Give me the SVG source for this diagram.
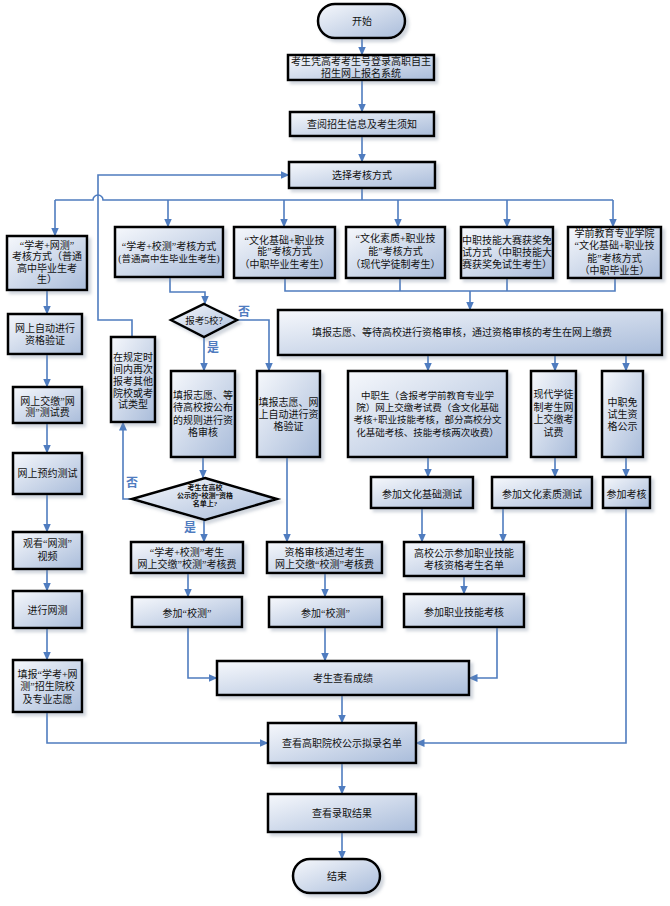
<svg xmlns="http://www.w3.org/2000/svg" width="670" height="906" viewBox="0 0 670 906">
<defs>
<linearGradient id="g" x1="0" y1="0" x2="1" y2="1">
<stop offset="0" stop-color="#f6f8fc"/>
<stop offset="1" stop-color="#a9bcda"/>
</linearGradient>
<filter id="sh" x="-10%" y="-10%" width="130%" height="140%">
<feDropShadow dx="3" dy="3" stdDeviation="1.8" flood-color="#7d8aa0" flood-opacity="0.35"/>
</filter>
<marker id="a" markerUnits="userSpaceOnUse" markerWidth="9" markerHeight="8" refX="8.5" refY="4" orient="auto">
<path d="M0,0 L9,4 L0,8 z" fill="#4f7cbf"/>
</marker>
<style>
.n{fill:url(#g);stroke:#000;stroke-width:2.5;filter:url(#sh)}
text{font-family:"Liberation Serif","Noto Sans CJK SC",serif;font-size:10px;fill:#111;text-anchor:middle}
.s{font-size:9.5px}
.d{font-size:7px;font-weight:bold}
.lb{font-family:"Noto Sans CJK SC",sans-serif;font-size:12px;font-weight:bold;fill:#4f7cbf}
.c path{fill:none;stroke:#4f7cbf;stroke-width:1.6}
.c .ar{marker-end:url(#a)}
</style>
</defs>
<rect width="670" height="906" fill="#fff"/>

<g class="c" id="connectors">
<path class="ar" d="M362,38 V55"/>
<path class="ar" d="M362,80 V112"/>
<path class="ar" d="M362,136 V162"/>
<path d="M362,188 V200"/>
<path d="M55,200 H93 A5,5 0 0 1 103,200 H613"/>
<path class="ar" d="M55,200 V236"/>
<path class="ar" d="M168,200 V227"/>
<path class="ar" d="M284,200 V227"/>
<path class="ar" d="M398,200 V227"/>
<path class="ar" d="M507,200 V227"/>
<path class="ar" d="M613,200 V227"/>
<path class="ar" d="M132,337 V320 H98 V175 H289"/>
<path class="ar" d="M47,290 V314"/>
<path class="ar" d="M47,354 V387"/>
<path class="ar" d="M47,423 V453"/>
<path class="ar" d="M47,494 V532"/>
<path class="ar" d="M47,569 V591"/>
<path class="ar" d="M47,628 V660"/>
<path class="ar" d="M47,712 V743 H268"/>
<path class="ar" d="M170,277 V292 H205 V304"/>
<path d="M285,278 V291 H615 V278"/>
<path d="M400,278 V291"/>
<path d="M507,278 V291"/>
<path class="ar" d="M470,291 V310"/>
<path class="ar" d="M237,320 H269 V371"/>
<path class="ar" d="M204,337 V371"/>
<path class="ar" d="M203,457 V478"/>
<path class="ar" d="M132,499 H123 V422"/>
<path class="ar" d="M204,520 V542"/>
<path class="ar" d="M188,573 V597"/>
<path class="ar" d="M188,627 V678 H217"/>
<path class="ar" d="M287,457 V542"/>
<path class="ar" d="M325,573 V597"/>
<path class="ar" d="M325,627 V661"/>
<path class="ar" d="M428,355 V371"/>
<path class="ar" d="M555,355 V371"/>
<path class="ar" d="M626,355 V371"/>
<path class="ar" d="M428,457 V477"/>
<path class="ar" d="M555,457 V477"/>
<path class="ar" d="M626,457 V477"/>
<path class="ar" d="M422,508 V542"/>
<path class="ar" d="M503,508 V542"/>
<path class="ar" d="M464,576 V594"/>
<path class="ar" d="M497,627 V678 H469"/>
<path class="ar" d="M626,508 V743 H416"/>
<path class="ar" d="M342,695 V723"/>
<path class="ar" d="M342,763 V794"/>
<path class="ar" d="M342,832 V859"/>
</g>

<g id="labels">
<text class="lb" x="244" y="316">否</text>
<text class="lb" x="213" y="352">是</text>
<text class="lb" x="132" y="487">否</text>
<text class="lb" x="190" y="532">是</text>
</g>

<g id="start"><rect class="n" x="318" y="4" width="87" height="34" rx="17"/><text x="362" y="25">开始</text></g>
<g id="login"><rect class="n" x="288" y="55" width="146" height="25"/><text x="361" y="65">考生凭高考考生号登录高职自主</text><text x="361" y="77">招生网上报名系统</text></g>
<g id="info"><rect class="n" x="290" y="112" width="144" height="24"/><text x="362" y="127.5">查阅招生信息及考生须知</text></g>
<g id="choose"><rect class="n" x="289" y="162" width="146" height="26"/><text x="362" y="178.5">选择考核方式</text></g>

<g id="modeA"><rect class="n" x="7" y="236" width="80" height="54"/><text x="47" y="248.5">“学考+网测”</text><text x="47" y="260">考核方式（普通</text><text x="47" y="271.5">高中毕业生考</text><text x="47" y="283">生）</text></g>
<g id="modeB"><rect class="n" x="115" y="227" width="108" height="50"/><text x="169" y="249.5">“学考+校测”考核方式</text><text class="s" x="169" y="261.5">(普通高中生毕业生考生)</text></g>
<g id="modeC"><rect class="n" x="234" y="227" width="101" height="51"/><text x="284.5" y="243.5">“文化基础+职业技</text><text x="284.5" y="255">能”考核方式</text><text x="284.5" y="267.5">（中职毕业生考生）</text></g>
<g id="modeD"><rect class="n" x="346" y="227" width="99" height="51"/><text x="395.5" y="242">“文化素质+职业技</text><text x="395.5" y="255">能”考核方式</text><text x="395.5" y="267.5">（现代学徒制考生）</text></g>
<g id="modeE"><rect class="n" x="461" y="227" width="92" height="51"/><text x="507" y="243.5">中职技能大赛获奖免</text><text x="507" y="255.5">试方式（中职技能大</text><text x="507" y="267.5">赛获奖免试生考生）</text></g>
<g id="modeF"><rect class="n" x="568" y="227" width="93" height="51"/><text x="614.5" y="236.5">学前教育专业学院</text><text x="614.5" y="249">“文化基础+职业技</text><text x="614.5" y="261.5">能”考核方式</text><text x="614.5" y="273.5">（中职毕业生）</text></g>

<g id="bigbox"><rect class="n" x="278" y="310" width="384" height="45"/><text x="462" y="335.5">填报志愿、等待高校进行资格审核，通过资格审核的考生在网上缴费</text></g>

<g id="dia1"><polygon class="n" points="204,304 237,320 204,337 171,320"/><text class="s" x="204" y="323.5">报考5校?</text></g>
<g id="boxG"><rect class="n" x="171" y="371" width="64" height="86"/><text x="203" y="398.5">填报志愿、等</text><text x="203" y="411">待高校按公布</text><text x="203" y="423.5">的规则进行资</text><text x="203" y="435.5">格审核</text></g>
<g id="boxH"><rect class="n" x="257" y="371" width="63" height="86"/><text x="288.5" y="405.5">填报志愿、网</text><text x="288.5" y="417.5">上自动进行资</text><text x="288.5" y="429.5">格验证</text></g>
<g id="boxI"><rect class="n" x="111" y="337" width="44" height="85"/><text x="133" y="360.5">在规定时</text><text x="133" y="372.5">间内再次</text><text x="133" y="384.5">报考其他</text><text x="133" y="396.5">院校或考</text><text x="133" y="407.5">试类型</text></g>
<g id="dia2"><polygon class="n" points="205,478 277,499 205,520 132,499"/><text class="d" x="205" y="489.5">考生在高校</text><text class="d" x="205" y="497.5">公示的“校测”资格</text><text class="d" x="205" y="505.5">名单上?</text></g>
<g id="boxJ"><rect class="n" x="131" y="542" width="112" height="31"/><text x="187" y="555.5">“学考+校测”考生</text><text x="187" y="567.5">网上交缴”校测”考核费</text></g>
<g id="boxK"><rect class="n" x="132" y="597" width="110" height="30"/><text x="187" y="616.5">参加“校测”</text></g>
<g id="boxH2"><rect class="n" x="267" y="542" width="115" height="31"/><text x="324.5" y="555.5">资格审核通过考生</text><text x="324.5" y="567.5">网上交缴“校测”考核费</text></g>
<g id="boxK2"><rect class="n" x="269" y="597" width="113" height="30"/><text x="325.5" y="616.5">参加“校测”</text></g>

<g id="payZ"><rect class="n" x="348" y="371" width="159" height="86"/><text class="s" x="427.5" y="398.5">中职生（含报考学前教育专业学</text><text class="s" x="427.5" y="411">院）网上交缴考试费（含文化基础</text><text class="s" x="427.5" y="422.5">考核+职业技能考核，部分高校分文</text><text class="s" x="427.5" y="435.5">化基础考核、技能考核两次收费）</text></g>
<g id="payX"><rect class="n" x="531" y="371" width="45" height="86"/><text x="553.5" y="397.5">现代学徒</text><text x="553.5" y="410.5">制考生网</text><text x="553.5" y="422.5">上交缴考</text><text x="553.5" y="435.5">试费</text></g>
<g id="mianshi"><rect class="n" x="602" y="371" width="41" height="86"/><text x="622.5" y="405.5">中职免</text><text x="622.5" y="417.5">试生资</text><text x="622.5" y="429.5">格公示</text></g>
<g id="testWH"><rect class="n" x="371" y="477" width="102" height="31"/><text x="422" y="497.5">参加文化基础测试</text></g>
<g id="testSZ"><rect class="n" x="492" y="477" width="100" height="31"/><text x="542" y="497.5">参加文化素质测试</text></g>
<g id="testKH"><rect class="n" x="603" y="477" width="47" height="31"/><text x="626.5" y="497.5">参加考核</text></g>
<g id="gongshi"><rect class="n" x="404" y="542" width="120" height="34"/><text x="464" y="556.5">高校公示参加职业技能</text><text x="464" y="568.5">考核资格考生名单</text></g>
<g id="jineng"><rect class="n" x="404" y="594" width="120" height="33"/><text x="464" y="615.5">参加职业技能考核</text></g>

<g id="L1"><rect class="n" x="8" y="314" width="74" height="40"/><text x="45" y="331.5">网上自动进行</text><text x="45" y="343.5">资格验证</text></g>
<g id="L2"><rect class="n" x="13" y="387" width="69" height="36"/><text x="47.5" y="404.5">网上交缴”网</text><text x="47.5" y="415.5">测”测试费</text></g>
<g id="L3"><rect class="n" x="13" y="453" width="69" height="41"/><text x="47.5" y="476.5">网上预约测试</text></g>
<g id="L4"><rect class="n" x="13" y="532" width="69" height="37"/><text x="47.5" y="546.5">观看“网测”</text><text x="47.5" y="559.5">视频</text></g>
<g id="L5"><rect class="n" x="13" y="591" width="69" height="37"/><text x="47.5" y="613.5">进行网测</text></g>
<g id="L6"><rect class="n" x="13" y="660" width="69" height="52"/><text x="47.5" y="677.5">填报“学考+网</text><text x="47.5" y="689.5">测”招生院校</text><text x="47.5" y="702.5">及专业志愿</text></g>

<g id="score"><rect class="n" x="217" y="661" width="252" height="34"/><text x="343" y="681.5">考生查看成绩</text></g>
<g id="list"><rect class="n" x="268" y="723" width="148" height="40"/><text x="342" y="746.5">查看高职院校公示拟录名单</text></g>
<g id="result"><rect class="n" x="268" y="794" width="148" height="38"/><text x="342" y="816.5">查看录取结果</text></g>
<g id="end"><rect class="n" x="293" y="859" width="87" height="34" rx="17"/><text x="337" y="879.5">结束</text></g>
</svg>
